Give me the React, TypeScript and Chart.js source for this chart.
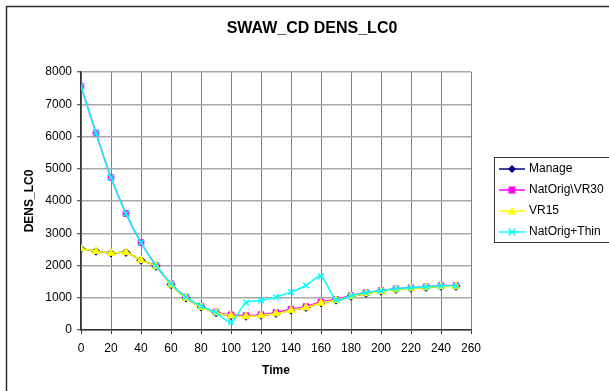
import React, { useEffect, useRef } from "react";
import { Chart, registerables } from "chart.js";

Chart.register(...registerables);

const times = [0, 10, 20, 30, 40, 50, 60, 70, 80, 90, 100, 110, 120, 130, 140, 150, 160, 170, 180, 190, 200, 210, 220, 230, 240, 250];
const manage = [2520, 2440, 2385, 2405, 2160, 1975, 1405, 990, 715, 535, 445, 425, 455, 515, 615, 700, 840, 925, 1045, 1135, 1200, 1260, 1295, 1320, 1355, 1355];
const natOrigVR30 = [7560, 6110, 4730, 3610, 2710, 2000, 1435, 1020, 740, 555, 470, 445, 475, 540, 645, 725, 870, 950, 1065, 1160, 1220, 1280, 1310, 1340, 1375, 1375];
const vr15 = [2520, 2440, 2385, 2405, 2160, 1970, 1400, 990, 710, 535, 440, 420, 450, 510, 610, 695, 835, 920, 1040, 1130, 1195, 1255, 1290, 1315, 1350, 1350];
const natOrigThin = [7560, 6110, 4730, 3610, 2710, 2000, 1435, 1020, 740, 540, 240, 845, 915, 1020, 1175, 1380, 1660, 940, 1060, 1160, 1215, 1280, 1310, 1340, 1370, 1370];

const seriesNames = ["Manage", "NatOrig\\VR30", "VR15", "NatOrig+Thin"];
const seriesColors = ["#000080", "#FF00FF", "#FFFF00", "#00FFFF"];
const seriesMarkers = ["rectRot", "rect", "triangle", "crossRot"];
const yTicksMax = 8000;
const xTicksMax = 260;

const FONT = "'Liberation Sans', Arial, sans-serif";

function drawMarker(ctx: CanvasRenderingContext2D, style: string, x: number, y: number, color: string) {
  ctx.save();
  ctx.fillStyle = color;
  ctx.strokeStyle = color;
  ctx.lineWidth = 1.5;
  ctx.beginPath();
  if (style === "rectRot") {
    ctx.moveTo(x, y - 4);
    ctx.lineTo(x + 4, y);
    ctx.lineTo(x, y + 4);
    ctx.lineTo(x - 4, y);
    ctx.closePath();
    ctx.fill();
  } else if (style === "rect") {
    ctx.rect(x - 3.5, y - 3.5, 7, 7);
    ctx.fill();
  } else if (style === "triangle") {
    ctx.moveTo(x, y - 4);
    ctx.lineTo(x + 4.5, y + 3.5);
    ctx.lineTo(x - 4.5, y + 3.5);
    ctx.closePath();
    ctx.fill();
  } else {
    ctx.moveTo(x - 3.5, y - 3.5);
    ctx.lineTo(x + 3.5, y + 3.5);
    ctx.moveTo(x + 3.5, y - 3.5);
    ctx.lineTo(x - 3.5, y + 3.5);
    ctx.stroke();
  }
  ctx.restore();
}

const decorPlugin = {
  id: "decor",
  afterDraw(chart: any) {
    const ctx: CanvasRenderingContext2D = chart.ctx;
    ctx.save();
    ctx.strokeStyle = "#333";
    ctx.lineWidth = 1.5;
    ctx.strokeRect(6.5, 6.5, 700, 500);
    ctx.fillStyle = "#000";
    ctx.font = `bold 16px ${FONT}`;
    ctx.textAlign = "center";
    ctx.textBaseline = "middle";
    ctx.fillText("SWAW_CD DENS_LC0", 312, 29);
    ctx.strokeStyle = "#333";
    ctx.lineWidth = 1;
    ctx.fillStyle = "#fff";
    ctx.fillRect(494.5, 157.5, 200, 85);
    ctx.strokeRect(494.5, 157.5, 200, 85);
    const rows = [169, 190, 211, 232];
    seriesNames.forEach((name, i) => {
      const y = rows[i];
      ctx.strokeStyle = seriesColors[i];
      ctx.lineWidth = 1.5;
      ctx.beginPath();
      ctx.moveTo(499, y);
      ctx.lineTo(525, y);
      ctx.stroke();
      drawMarker(ctx, seriesMarkers[i], 512, y, seriesColors[i]);
      ctx.fillStyle = "#000";
      ctx.font = `12px ${FONT}`;
      ctx.textAlign = "left";
      ctx.textBaseline = "middle";
      ctx.fillText(name, 529, y);
    });
    ctx.restore();
  },
};

export default function App() {
  const ref = useRef<HTMLCanvasElement | null>(null);
  useEffect(() => {
    document.body.style.margin = "0";
    const canvas = ref.current!;
    const seriesData = [manage, natOrigVR30, vr15, natOrigThin];
    const chart = new Chart(canvas, {
      type: "line",
      data: {
        datasets: seriesData.map((vals, i) => ({
          label: seriesNames[i],
          data: vals.map((v, k) => ({ x: times[k], y: v })),
          borderColor: seriesColors[i],
          backgroundColor: seriesColors[i],
          pointBackgroundColor: seriesColors[i],
          pointBorderColor: seriesColors[i],
          pointStyle: seriesMarkers[i] as any,
          pointRadius: i === 2 ? 4.5 : 4,
          pointBorderWidth: i === 3 ? 1.5 : 1,
          borderWidth: 1.5,
          tension: 0.3,
          fill: false,
          order: 4 - i,
        })),
      },
      options: {
        animation: false,
        responsive: false,
        devicePixelRatio: 1,
        layout: { padding: { left: 0, top: 72, right: 138, bottom: 0 } },
        plugins: {
          legend: { display: false },
          title: { display: false },
          tooltip: { enabled: false },
        },
        scales: {
          x: {
            type: "linear",
            min: 0,
            max: xTicksMax,
            afterFit: (s: any) => {
              s.height = 61;
            },
            ticks: {
              stepSize: 20,
              color: "#000",
              padding: 7,
              maxRotation: 0,
              font: { family: FONT, size: 12 },
              callback: (v: any) => String(v),
            },
            grid: {
              color: "#808080",
              lineWidth: 1,
              tickLength: 4,
              tickColor: "#333",
              tickWidth: 1,
            },
            border: { color: "#333", width: 1.5 },
            title: {
              display: true,
              text: "Time",
              color: "#000",
              font: { family: FONT, size: 12, weight: "bold" },
              padding: { top: 0, bottom: 13 },
            },
          },
          y: {
            min: 0,
            max: yTicksMax,
            afterFit: (s: any) => {
              s.width = 81;
            },
            ticks: {
              stepSize: 1000,
              color: "#000",
              padding: 5,
              font: { family: FONT, size: 12 },
              callback: (v: any) => String(v),
            },
            grid: {
              color: "#a8a8a8",
              lineWidth: 1.5,
              tickLength: 4,
              tickColor: "#333",
              tickWidth: 1,
            },
            border: { color: "#333", width: 1.5 },
            title: {
              display: true,
              text: "DENS_LC0",
              color: "#000",
              font: { family: FONT, size: 12, weight: "bold" },
              padding: { top: 22, bottom: 0 },
            },
          },
        },
      },
      plugins: [decorPlugin],
    });
    return () => chart.destroy();
  }, []);
  return (
    <div style={{ position: "absolute", left: 0, top: 0, width: 609, height: 391 }}>
      <canvas ref={ref} width={609} height={391} />
    </div>
  );
}
